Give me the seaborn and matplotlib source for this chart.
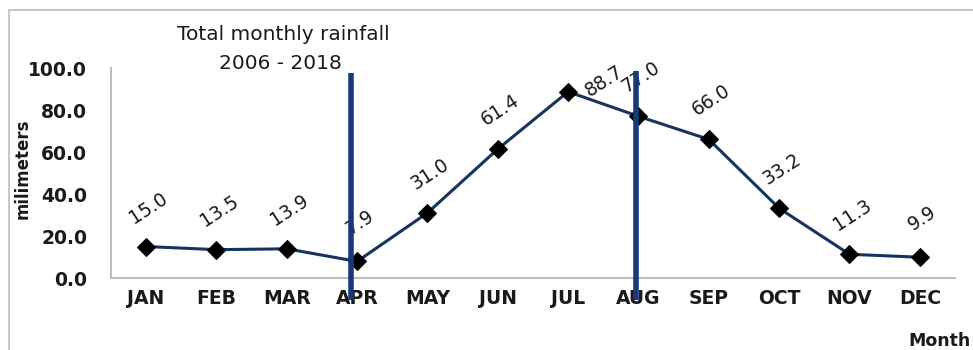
import matplotlib
matplotlib.use("Agg")
import matplotlib.pyplot as plt
from matplotlib.patches import Rectangle
import seaborn as sns
import pandas as pd

months = ["JAN", "FEB", "MAR", "APR", "MAY", "JUN",
          "JUL", "AUG", "SEP", "OCT", "NOV", "DEC"]
rainfall = [15.0, 13.5, 13.9, 7.9, 31.0, 61.4, 88.7, 77.0, 66.0, 33.2, 11.3, 9.9]
y_ticks = [0, 20, 40, 60, 80, 100]
marked_months = ["APR", "AUG"]

df = pd.DataFrame({"Month": months, "milimeters": rainfall})

sns.set_theme(style="white")
plt.rcParams["font.family"] = ["DejaVu Sans"]

fig = plt.figure(figsize=(9.73, 3.5), dpi=100)
ax = fig.add_axes([0.114, 0.2057, 0.8675, 0.60])

line_color = "#17335f"
sns.lineplot(data=df, x="Month", y="milimeters", ax=ax, color=line_color,
             linewidth=2.2, marker="D", markersize=9.5,
             markerfacecolor="black", markeredgecolor="black", sort=False)

ax.set_xlim(-0.5, len(months) - 0.5)
ax.set_ylim(0, 100)
ax.set_yticks(y_ticks)
ax.set_yticklabels([f"{v:.1f}" for v in y_ticks])
ax.tick_params(axis="x", length=0, labelsize=13.5, colors="#1a1a1a", pad=8)
ax.tick_params(axis="y", length=0, labelsize=13.5, colors="#1a1a1a", pad=17)
for lbl in ax.get_xticklabels() + ax.get_yticklabels():
    lbl.set_fontweight("bold")

for side in ["top", "right"]:
    ax.spines[side].set_visible(False)
for side in ["left", "bottom"]:
    ax.spines[side].set_color("#bfbfbf")
    ax.spines[side].set_linewidth(1.5)

ax.set_xlabel("")
ax.set_ylabel("milimeters", fontsize=12, fontweight="bold", color="#1a1a1a")
ax.yaxis.set_label_coords(-0.094, 0.52)

# value labels, tilted above each point
for i, (m, v) in enumerate(zip(months, rainfall)):
    dx, dy = (26, 8) if m == "JUL" else (2, 28)
    ax.annotate(f"{v:.1f}", xy=(i, v), xytext=(dx, dy),
                textcoords="offset points", ha="center", va="center",
                rotation=33, fontsize=13.5, color="#1a1a1a",
                annotation_clip=False)

# thick vertical markers at selected months
for m in marked_months:
    i = months.index(m)
    shift, top = (-0.09, 97.5) if m == "APR" else (-0.03, 98.5)
    ax.vlines(i + shift, -10.5, top, colors="#163a75", linewidth=4,
              clip_on=False, zorder=5)

fig.text(0.291, 0.900, "Total monthly rainfall", ha="center", va="center",
         fontsize=14.5, color="#1a1a1a")
fig.text(0.288, 0.818, "2006 - 2018", ha="center", va="center",
         fontsize=14.5, color="#1a1a1a")
fig.text(0.966, 0.025, "Month", ha="center", va="center",
         fontsize=12.5, fontweight="bold", color="#1a1a1a")

# outer frame
fig.patches.append(Rectangle((9 / 973, -0.1), 1.2, 1.1 - 10 / 350,
                             transform=fig.transFigure, fill=False,
                             edgecolor="#c8c8c8", linewidth=1.5))

fig.savefig("out.png", dpi=100)
